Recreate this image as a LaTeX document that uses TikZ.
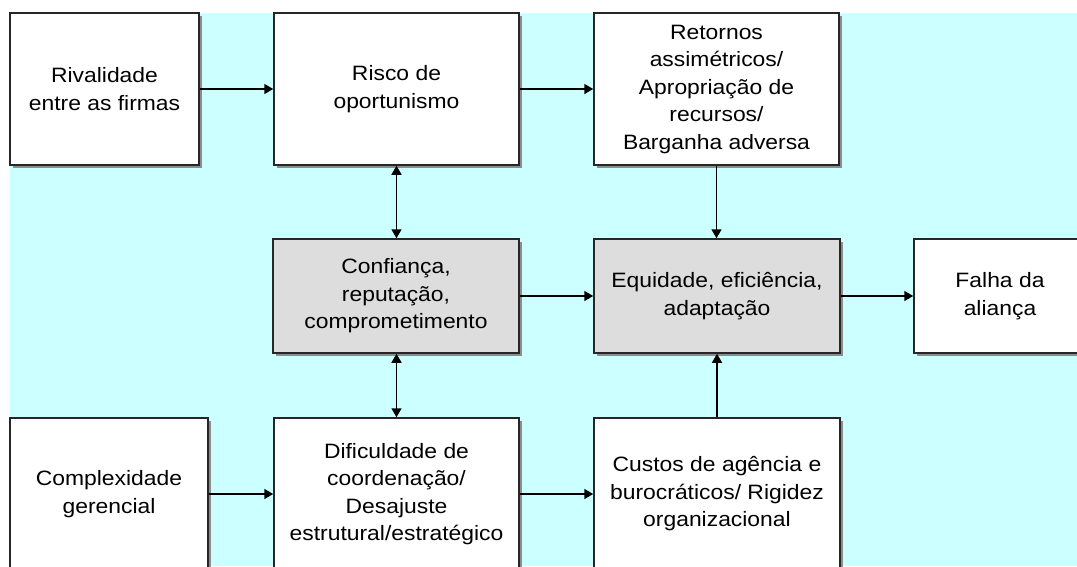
\documentclass[tikz,border=0pt]{standalone}
\usepackage{fontspec}
\setmainfont{Liberation Sans}[FakeStretch=1.1]
\usetikzlibrary{shadows,arrows.meta}
\definecolor{bgcyan}{HTML}{CCFFFF}
\definecolor{boxgray}{HTML}{DDDDDD}
\begin{document}
\begin{tikzpicture}[x=1pt,y=-1pt,
  box/.style={draw=black!85, line width=1.5pt, fill=white, rectangle, inner sep=0pt, align=center,
    font=\fontsize{20.8}{27.5}\selectfont,
    drop shadow={shadow xshift=3pt, shadow yshift=-3pt, fill=black!45, opacity=1}},
  shadedbox/.style={box, fill=boxgray},
  tip/.tip={Triangle[length=9pt,width=10pt]},
  conn/.style={line width=1.6pt, -tip},
  bidir/.style={line width=1.6pt, tip-tip}]
\useasboundingbox (0,0) rectangle (1077,566);
\clip (0,0) rectangle (1077,566);
\fill[bgcyan] (10,13) rectangle (1077,566);
% top row
\node[box, minimum width=189pt, minimum height=152pt] (riv) at (104.5,89) {Rivalidade\\entre as firmas};
\node[box, minimum width=245pt, minimum height=152pt] (risco) at (396.5,89) {Risco de\\oportunismo};
\node[box, minimum width=245pt, minimum height=152pt] (ret) at (716.5,89) {Retornos\\assimétricos/\\Apropriação de\\recursos/\\Barganha adversa};
% middle row
\node[shadedbox, minimum width=246pt, minimum height=114pt] (conf) at (396,296) {Confiança,\\reputação,\\comprometimento};
\node[shadedbox, minimum width=246pt, minimum height=114pt] (eq) at (717,296) {Equidade, eficiência,\\adaptação};
\node[box, minimum width=172pt, minimum height=114pt] (falha) at (1000,296) {Falha da\\aliança};
% bottom row
\node[box, minimum width=198pt, minimum height=152pt] (comp) at (109,494) {Complexidade\\gerencial};
\node[box, minimum width=245pt, minimum height=152pt] (dif) at (396.5,494) {Dificuldade de\\coordenação/\\Desajuste\\estrutural/estratégico};
\node[box, minimum width=246pt, minimum height=152pt] (cus) at (717,494) {Custos de agência e\\burocráticos/ Rigidez\\organizacional};
% connectors
\draw[conn] (riv.east) -- (risco.west);
\draw[conn] (risco.east) -- (ret.west);
\draw[conn] (ret.south) -- (ret.south |- eq.north);
\draw[bidir] (risco.south) -- (risco.south |- conf.north);
\draw[conn] (conf.east) -- (eq.west);
\draw[conn] (eq.east) -- (falha.west);
\draw[bidir] (dif.north) -- (dif.north |- conf.south);
\draw[conn] (comp.east |- dif.west) -- (dif.west);
\draw[conn] (dif.east) -- (cus.west);
\draw[conn] (cus.north) -- (cus.north |- eq.south);
\end{tikzpicture}
\end{document}
